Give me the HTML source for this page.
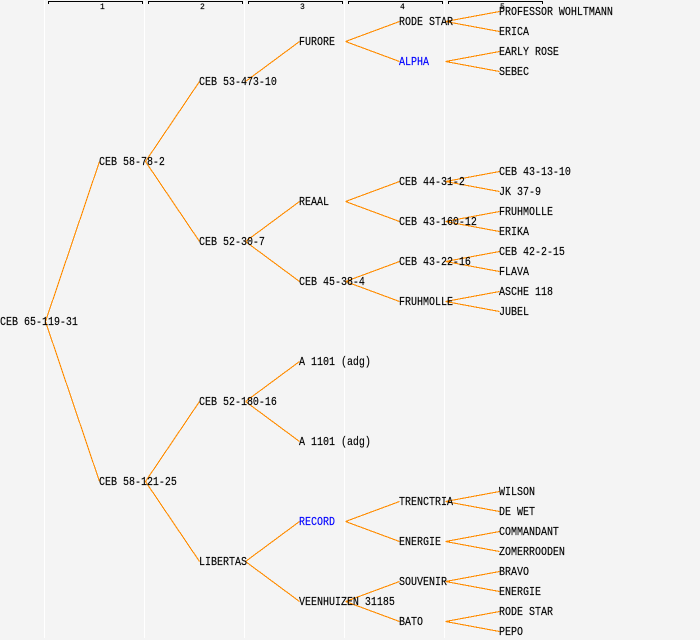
<!DOCTYPE html>
<html><head><meta charset="utf-8"><style>
html,body{margin:0;padding:0;background:#f4f4f4;width:700px;height:640px;overflow:hidden}
svg{display:block}
text{font-family:"Liberation Mono",monospace;font-size:12px;fill:#000;stroke:#000;stroke-width:.15}
.n{font-size:8px}
.b{fill:#0000ff;stroke:#0000ff}
</style></head><body>
<svg width="700" height="640" viewBox="0 0 700 640" xmlns="http://www.w3.org/2000/svg">
<rect width="700" height="640" fill="#f4f4f4"/>
<g fill="#ffffff"><rect x="44" y="0" width="1" height="638"/><rect x="144" y="0" width="1" height="638"/><rect x="244" y="0" width="1" height="638"/><rect x="344" y="0" width="1" height="638"/><rect x="444" y="0" width="1" height="638"/></g>
<g fill="#000">
<rect x="48" y="1" width="95" height="1"/><rect x="48" y="1" width="1" height="3"/><rect x="142" y="1" width="1" height="3"/>
<rect x="148" y="1" width="95" height="1"/><rect x="148" y="1" width="1" height="3"/><rect x="242" y="1" width="1" height="3"/>
<rect x="248" y="1" width="95" height="1"/><rect x="248" y="1" width="1" height="3"/><rect x="342" y="1" width="1" height="3"/>
<rect x="348" y="1" width="95" height="1"/><rect x="348" y="1" width="1" height="3"/><rect x="442" y="1" width="1" height="3"/>
<rect x="448" y="1" width="95" height="1"/><rect x="448" y="1" width="1" height="3"/><rect x="542" y="1" width="1" height="3"/>
</g>
<g stroke="#ff8c00" stroke-width="1.1" fill="none" shape-rendering="crispEdges" transform="translate(.5 .5)">
<path d="M45 321L99 161M45 321L99 481"/>
<path d="M145 161L199 81M145 161L199 241M145 481L199 401M145 481L199 561"/>
<path d="M245 81L299 41M245 241L299 201M245 241L299 281M245 401L299 361M245 401L299 441M245 561L299 521M245 561L299 601"/>
<path d="M345 41L399 21M345 41L399 61M345 201L399 181M345 201L399 221M345 281L399 261M345 281L399 301M345 521L399 501M345 521L399 541M345 601L399 581M345 601L399 621"/>
<path d="M445 21L499 11M445 21L499 31M445 61L499 51M445 61L499 71M445 181L499 171M445 181L499 191M445 221L499 211M445 221L499 231M445 261L499 251M445 261L499 271M445 301L499 291M445 301L499 311M445 501L499 491M445 501L499 511M445 541L499 531M445 541L499 551M445 581L499 571M445 581L499 591M445 621L499 611M445 621L499 631"/>
</g>
<text class="n" x="100" y="9">1</text><text class="n" x="200" y="9">2</text><text class="n" x="300" y="9">3</text><text class="n" x="400" y="9">4</text><text class="n" x="500" y="9">5</text>
<g transform="translate(0 -1) scale(.83333 1)">
<text x="0" y="326">CEB 65-119-31</text>
<text x="118.8" y="166">CEB 58-78-2</text>
<text x="118.8" y="486">CEB 58-121-25</text>
<text x="238.8" y="86">CEB 53-473-10</text>
<text x="238.8" y="246">CEB 52-30-7</text>
<text x="238.8" y="406">CEB 52-180-16</text>
<text x="238.8" y="566">LIBERTAS</text>
<text x="358.8" y="46">FURORE</text>
<text x="358.8" y="206">REAAL</text>
<text x="358.8" y="286">CEB 45-38-4</text>
<text x="358.8" y="366">A 1101 (adg)</text>
<text x="358.8" y="446">A 1101 (adg)</text>
<text x="358.8" y="526" class="b">RECORD</text>
<text x="358.8" y="606">VEENHUIZEN 31185</text>
<text x="478.8" y="26">RODE STAR</text>
<text x="478.8" y="66" class="b">ALPHA</text>
<text x="478.8" y="186">CEB 44-31-2</text>
<text x="478.8" y="226">CEB 43-160-12</text>
<text x="478.8" y="266">CEB 43-22-16</text>
<text x="478.8" y="306">FRUHMOLLE</text>
<text x="478.8" y="506">TRENCTRIA</text>
<text x="478.8" y="546">ENERGIE</text>
<text x="478.8" y="586">SOUVENIR</text>
<text x="478.8" y="626">BATO</text>
<text x="598.8" y="16">PROFESSOR WOHLTMANN</text>
<text x="598.8" y="36">ERICA</text>
<text x="598.8" y="56">EARLY ROSE</text>
<text x="598.8" y="76">SEBEC</text>
<text x="598.8" y="176">CEB 43-13-10</text>
<text x="598.8" y="196">JK 37-9</text>
<text x="598.8" y="216">FRUHMOLLE</text>
<text x="598.8" y="236">ERIKA</text>
<text x="598.8" y="256">CEB 42-2-15</text>
<text x="598.8" y="276">FLAVA</text>
<text x="598.8" y="296">ASCHE 118</text>
<text x="598.8" y="316">JUBEL</text>
<text x="598.8" y="496">WILSON</text>
<text x="598.8" y="516">DE WET</text>
<text x="598.8" y="536">COMMANDANT</text>
<text x="598.8" y="556">ZOMERROODEN</text>
<text x="598.8" y="576">BRAVO</text>
<text x="598.8" y="596">ENERGIE</text>
<text x="598.8" y="616">RODE STAR</text>
<text x="598.8" y="636">PEPO</text>
</g>
</svg>
</body></html>
